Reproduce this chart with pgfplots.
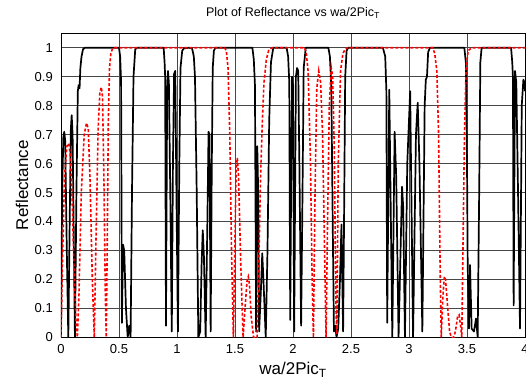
\documentclass[border=0pt]{standalone}
\usepackage{fontspec}
\setmainfont{Liberation Sans}
\usepackage{pgfplots}
\usepackage{pgfplotstable}
\pgfplotsset{compat=1.18}

\pgfplotstableread{
x y
0.000 0.00
0.010 0.50
0.020 0.69
0.028 0.71
0.036 0.68
0.050 0.30
0.063 0.00
0.075 0.40
0.085 0.72
0.092 0.767
0.100 0.70
0.110 0.35
0.120 0.00
0.133 0.50
0.145 0.85
0.152 0.871
0.160 0.86
0.167 0.93
0.177 0.97
0.190 0.995
0.205 1.00
0.500 1.00
0.510 0.97
0.518 0.88
0.525 0.05
0.535 0.32
0.545 0.30
0.560 0.10
0.575 0.00
0.588 0.04
0.600 0.00
0.612 0.50
0.625 0.90
0.640 0.995
0.655 1.00
0.885 1.00
0.893 0.95
0.898 0.90
0.905 0.04
0.915 0.85
0.922 0.92
0.930 0.88
0.942 0.50
0.955 0.02
0.965 0.60
0.975 0.91
0.985 0.92
0.995 0.50
1.008 0.02
1.020 0.60
1.030 0.93
1.045 0.99
1.060 0.998
1.100 1.00
1.130 0.998
1.145 0.97
1.155 0.90
1.170 0.50
1.184 0.00
1.200 0.02
1.212 0.25
1.222 0.37
1.232 0.28
1.247 0.00
1.262 0.40
1.272 0.71
1.280 0.70
1.290 0.02
1.300 0.60
1.308 0.93
1.318 0.99
1.330 1.00
1.650 1.00
1.662 0.96
1.672 0.87
1.682 0.02
1.692 0.66
1.700 0.50
1.708 0.02
1.722 0.15
1.735 0.29
1.745 0.20
1.765 0.00
1.780 0.30
1.795 0.75
1.810 0.95
1.830 1.00
1.945 1.00
1.958 0.97
1.968 0.88
1.976 0.06
1.985 0.60
1.992 0.90
2.000 0.87
2.010 0.02
2.025 0.90
2.035 0.93
2.045 0.92
2.055 0.60
2.070 0.04
2.082 0.50
2.092 0.93
2.110 1.00
2.305 1.00
2.318 0.97
2.330 0.87
2.345 0.30
2.353 0.02
2.365 0.04
2.375 0.00
2.390 0.03
2.405 0.20
2.418 0.39
2.425 0.20
2.432 0.02
2.440 0.40
2.450 0.90
2.462 0.99
2.475 1.00
2.775 1.00
2.795 0.97
2.805 0.85
2.812 0.05
2.830 0.855
2.856 0.00
2.876 0.71
2.890 0.55
2.910 0.00
2.940 0.52
2.950 0.45
2.965 0.00
2.985 0.60
3.010 0.85
3.035 0.00
3.060 0.70
3.075 0.81
3.090 0.60
3.115 0.02
3.135 0.80
3.145 0.89
3.155 0.90
3.165 0.985
3.180 1.00
3.477 1.00
3.490 0.95
3.500 0.60
3.506 0.25
3.517 0.03
3.526 0.25
3.540 0.03
3.560 0.02
3.578 0.065
3.592 0.00
3.605 0.50
3.615 0.95
3.626 1.00
3.880 1.00
3.890 0.95
3.896 0.90
3.902 0.11
3.914 0.92
3.925 0.88
3.940 0.50
3.957 0.03
3.972 0.80
3.986 0.89
3.995 0.88
4.000 0.85
}\blackdata

\pgfplotstableread{
x y
0.000 0.00
0.015 0.30
0.030 0.55
0.050 0.66
0.068 0.67
0.082 0.62
0.098 0.45
0.115 0.20
0.130 0.05
0.141 0.00
0.155 0.15
0.175 0.50
0.200 0.70
0.220 0.74
0.235 0.72
0.250 0.55
0.270 0.20
0.287 0.00
0.300 0.30
0.320 0.72
0.335 0.845
0.348 0.864
0.358 0.83
0.370 0.55
0.382 0.15
0.390 0.00
0.398 0.30
0.408 0.75
0.418 0.93
0.430 0.98
0.445 0.998
0.460 1.00
1.410 1.00
1.425 0.99
1.440 0.93
1.455 0.70
1.470 0.30
1.486 0.00
1.500 0.35
1.510 0.58
1.520 0.62
1.530 0.56
1.550 0.25
1.570 0.00
1.590 0.12
1.605 0.20
1.615 0.21
1.625 0.18
1.640 0.07
1.660 0.00
1.690 0.00
1.705 0.25
1.720 0.55
1.736 0.75
1.750 0.88
1.770 0.96
1.790 0.99
1.816 1.00
2.100 1.00
2.115 0.98
2.130 0.92
2.150 0.62
2.165 0.20
2.176 0.00
2.190 0.50
2.205 0.86
2.222 0.92
2.238 0.88
2.255 0.70
2.272 0.30
2.285 0.00
2.298 0.40
2.313 0.80
2.330 0.93
2.342 0.90
2.356 0.65
2.370 0.10
2.378 0.01
2.390 0.60
2.410 0.92
2.430 0.98
2.450 0.995
2.470 1.00
3.205 1.00
3.222 0.98
3.240 0.92
3.255 0.70
3.268 0.25
3.278 0.00
3.292 0.14
3.305 0.21
3.315 0.20
3.330 0.12
3.350 0.02
3.365 0.00
3.385 0.00
3.400 0.02
3.418 0.07
3.432 0.077
3.445 0.04
3.455 0.00
3.465 0.30
3.478 0.70
3.492 0.93
3.510 0.99
3.540 1.00
4.000 1.00
}\reddata

\begin{document}
\begin{tikzpicture}
\begin{axis}[
  at={(0pt,0pt)}, anchor=south west,
  scale only axis, width=464pt, height=304pt,
  xmin=0, xmax=4, ymin=0, ymax=1.05,
  xtick={0,0.5,1,1.5,2,2.5,3,3.5,4},
  xticklabels={0,0.5,1,1.5,2,2.5,3,3.5,4},
  ytick={0,0.1,0.2,0.3,0.4,0.5,0.6,0.7,0.8,0.9,1},
  yticklabels={0,0.1,0.2,0.3,0.4,0.5,0.6,0.7,0.8,0.9,1},
  grid=major,
  major grid style={draw=black!72, line width=0.7pt},
  axis line style={draw=black, line width=0.8pt},
  major tick length=0pt,
  tick label style={font=\fontsize{13}{13}\selectfont},
  xticklabel style={anchor=base, yshift=-16pt},
  yticklabel style={anchor=east, inner sep=0pt, xshift=-8pt},
  xlabel={wa/2Pic\textsubscript{T}},
  xlabel style={font=\fontsize{17}{17}\selectfont, at={(axis description cs:0.5,0)}, anchor=base, yshift=-37.5pt},
  title={Plot of Reflectance vs wa/2Pic\textsubscript{T}},
  title style={font=\fontsize{12.5}{12.5}\selectfont, at={(axis description cs:0.5,1)}, anchor=base, yshift=11pt},
  clip mode=individual,
]
\addplot[black, line width=1.7pt, line join=round] table[x=x,y=y] {\blackdata};
\addplot[red, line width=1.6pt, dash pattern=on 3pt off 2pt] table[x=x,y=y] {\reddata};
\node[rotate=90, anchor=center, inner sep=0pt, font=\fontsize{17}{17}\selectfont]
  at ([xshift=-39pt]axis description cs:0,0.5) {Reflectance};
\end{axis}
\pgfresetboundingbox
\useasboundingbox (-61pt,-50.7pt) rectangle (465pt,337.3pt);
\end{tikzpicture}
\end{document}
